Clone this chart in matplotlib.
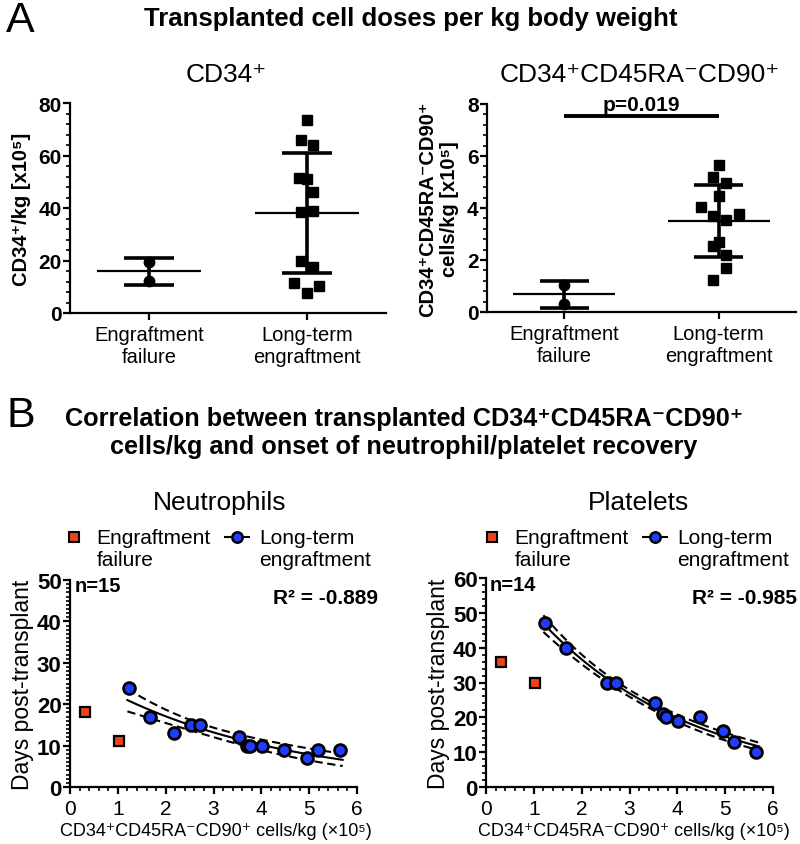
import numpy as np
import matplotlib
matplotlib.use("Agg")
import matplotlib.pyplot as plt
from matplotlib.lines import Line2D
from matplotlib.legend_handler import HandlerLine2D
from matplotlib.ticker import MultipleLocator

plt.rcParams['font.family'] = ['Liberation Sans', 'DejaVu Sans']

# ---------------- data ----------------
groups = ["Engraftment\nfailure", "Long-term\nengraftment"]

cd34_failure = [19.5, 12.3]
cd34_longterm = [73.6, 66.0, 64.0, 51.3, 51.0, 46.0, 38.5, 38.7, 19.7, 17.5, 11.3, 10.4, 7.5]
cd34_jitter = [0.0, -0.04, 0.04, -0.05, 0.0, 0.04, -0.035, 0.04, -0.035, 0.04, -0.08, 0.077, 0.0]

cd90_failure = [1.03, 0.32]
cd90_longterm = [1.23, 1.68, 2.18, 2.52, 2.71, 3.54, 3.70, 3.76, 4.02, 4.47, 4.96, 5.19, 5.65]
cd90_jitter = [-0.04, 0.05, 0.05, -0.04, 0.0, 0.05, -0.04, 0.13, -0.115, 0.0, 0.05, -0.04, 0.0]

neut_failure_days = [11, 18]
neut_longterm_days = [24, 17, 13, 15, 15, 12, 10, 10, 10, 9, 7, 9, 9]
plt_failure_days = [30, 36]
plt_longterm_days = [47, 40, np.nan, 30, 30, 24, 21, 20, 19, 20, 16, 13, 10]

legend_labels = ["Engraftment\nfailure", "Long-term\nengraftment"]
p_value_text = "p=0.019"
neut_n, plt_n = "n=15", "n=14"
neut_r, plt_r = "R\u00b2 = -0.889", "R\u00b2 = -0.985"

RED = "#f2401a"
BLUE = "#1f3cff"

W, H = 800, 845
fig = plt.figure(figsize=(W / 100, H / 100), dpi=100)


def px_axes(x0, x1, ytop, ybot):
    return fig.add_axes([x0 / W, 1 - ybot / H, (x1 - x0) / W, (ybot - ytop) / H])


def style_axes(ax):
    for s in ("top", "right"):
        ax.spines[s].set_visible(False)
    for s in ("left", "bottom"):
        ax.spines[s].set_linewidth(1.6)
    ax.tick_params(which="major", direction="out", length=5, width=1.6)
    ax.tick_params(which="minor", direction="out", length=3, width=1.2)


def dot_plot(ax, fail, lt, jit, ymax, major, minor, markersize):
    pos = [0, 1]
    data = [np.asarray(fail), np.asarray(lt)]
    ax.plot(np.zeros(len(fail)) + pos[0], fail, "o", color="k", ms=markersize + 0.5, zorder=3)
    ax.plot(pos[1] + np.asarray(jit), lt, "s", color="k", ms=markersize, zorder=3)
    for p, d in zip(pos, data):
        m, sd = d.mean(), d.std(ddof=1)
        ax.hlines(m, p - 0.33, p + 0.33, color="k", lw=1.6, zorder=4)
        ax.vlines(p, m - sd, m + sd, color="k", lw=2.6, zorder=4)
        ax.hlines([m - sd, m + sd], p - 0.16, p + 0.16, color="k", lw=2.6, zorder=4)
    ax.set_xlim(-0.5, 1.5)
    ax.set_ylim(0, ymax)
    ax.set_xticks(pos)
    ax.set_xticklabels(groups, fontsize=14.5, linespacing=1.2)
    ax.yaxis.set_major_locator(MultipleLocator(major))
    ax.yaxis.set_minor_locator(MultipleLocator(minor))
    for t in ax.get_yticklabels():
        t.set_fontweight("bold")
        t.set_fontsize(15)
    style_axes(ax)
    ax.tick_params(axis="y", pad=1)


def exp_fit(x, y, xs):
    """Nonlinear least-squares fit y = A*exp(k*x) with 95% confidence band."""
    x = np.asarray(x, float)
    y = np.asarray(y, float)
    b, a = np.polyfit(x, np.log(y), 1)
    A, k = np.exp(a), b
    for _ in range(60):
        e = np.exp(k * x)
        J = np.column_stack([e, A * x * e])
        delta = np.linalg.lstsq(J, y - A * e, rcond=None)[0]
        A += delta[0]
        k += delta[1]
    e = np.exp(k * x)
    J = np.column_stack([e, A * x * e])
    n = len(x)
    s2 = np.sum((y - A * e) ** 2) / (n - 2)
    cov = s2 * np.linalg.inv(J.T @ J)
    es = np.exp(k * xs)
    G = np.column_stack([es, A * xs * es])
    se = np.sqrt(np.einsum("ij,jk,ik->i", G, cov, G))
    fit = A * es
    t = 2.2
    return fit, fit - t * se, fit + t * se


class FirstLineHandler(HandlerLine2D):
    """Place the legend key level with the first line of a two-line label."""

    def create_artists(self, legend, orig_handle, xdescent, ydescent, width, height, fontsize, trans):
        arts = super().create_artists(legend, orig_handle, xdescent, ydescent, width, height,
                                      fontsize, trans)
        for a in arts:
            a.set_ydata(np.asarray(a.get_ydata()) + 0.56 * fontsize)
        return arts


def corr_plot(ax, fx, fy, lx, ly, ymax, major, minor, leg_left):
    lx = np.asarray(lx, float)
    ly = np.asarray(ly, float)
    ok = ~np.isnan(ly)
    xs = np.linspace(lx[ok].min() - 0.03, lx[ok].max() + 0.05, 200)
    fit, lo, hi = exp_fit(lx[ok], ly[ok], xs)
    ax.plot(xs, fit, "-", color="k", lw=1.5, zorder=2)
    ax.plot(xs, lo, "--", color="k", lw=1.5, dashes=(4, 2.2), zorder=2)
    ax.plot(xs, hi, "--", color="k", lw=1.5, dashes=(4, 2.2), zorder=2)
    ax.plot(fx, fy, "s", mfc=RED, mec="k", mew=1.6, ms=7.5, ls="none", zorder=3)
    ax.plot(lx[ok], ly[ok], "o", mfc=BLUE, mec="k", mew=2.0, ms=8.5, ls="none", zorder=3)
    ax.set_xlim(0, 6)
    ax.set_ylim(0, ymax)
    ax.xaxis.set_major_locator(MultipleLocator(1))
    ax.xaxis.set_minor_locator(MultipleLocator(0.2))
    ax.yaxis.set_major_locator(MultipleLocator(major))
    ax.yaxis.set_minor_locator(MultipleLocator(minor))
    for t in ax.get_yticklabels():
        t.set_fontweight("bold")
        t.set_fontsize(16)
    for t in ax.get_xticklabels():
        t.set_fontsize(15)
    style_axes(ax)
    ax.tick_params(axis="y", pad=1)
    ax.set_ylabel("Days post-transplant", fontsize=16.5, labelpad=2)
    h_fail = Line2D([], [], marker="s", ls="none", mfc=RED, mec="k", mew=1.5, ms=6.5)
    h_lt = Line2D([], [], marker="o", ls="-", color="k", lw=1.5, mfc=BLUE, mec="k", mew=1.8, ms=7.5)
    ax.legend([h_fail, h_lt], legend_labels, ncol=2,
              loc="upper left", bbox_to_anchor=(leg_left / W, 1 - 529 / H),
              bbox_transform=fig.transFigure, frameon=False,
              fontsize=15, handlelength=1.15, handletextpad=0.5, columnspacing=0.7,
              borderaxespad=0, borderpad=0,
              handler_map={Line2D: FirstLineHandler()})


# ---------------- Panel A ----------------
ax1 = px_axes(70, 386, 104, 314)
dot_plot(ax1, cd34_failure, cd34_longterm, cd34_jitter, 80, 20, 4, 7)
ax1.set_ylabel("CD34\u207a/kg [x10\u2075]", fontsize=14.5, fontweight="bold", labelpad=5)

ax2 = px_axes(487, 796, 105, 313)
dot_plot(ax2, cd90_failure, cd90_longterm, cd90_jitter, 8, 2, 0.4, 7)
ax2.set_ylabel("CD34\u207aCD45RA\u207bCD90\u207a\ncells/kg [x10\u2075]", fontsize=14.5,
               fontweight="bold", labelpad=6, linespacing=1.15)
ax2.plot([0, 1], [7.52, 7.52], color="k", lw=2.8, solid_capstyle="butt", clip_on=False)
ax2.text(0.5, 7.62, p_value_text, ha="center", va="bottom", fontsize=15, fontweight="bold")

fig.text(6 / W, 1 - 21 / H, "A", fontsize=31, va="center", ha="left")
fig.text(411 / W, 1 - 19 / H, "Transplanted cell doses per kg body weight",
         fontsize=18.5, fontweight="bold", ha="center", va="center")
fig.text(226 / W, 1 - 75 / H, "CD34\u207a", fontsize=19, ha="center", va="center")
fig.text(640 / W, 1 - 75 / H, "CD34\u207aCD45RA\u207bCD90\u207a", fontsize=19, ha="center", va="center")

# ---------------- Panel B ----------------
fig.text(6 / W, 1 - 416 / H, "B", fontsize=31, va="center", ha="left")
fig.text(404 / W, 1 - 433 / H,
         "Correlation between transplanted CD34\u207aCD45RA\u207bCD90\u207a\n"
         "cells/kg and onset of neutrophil/platelet recovery",
         fontsize=18.2, fontweight="bold", ha="center", va="center", linespacing=1.25)

ax3 = px_axes(70, 357, 581, 788)
corr_plot(ax3, cd90_failure, neut_failure_days, cd90_longterm, neut_longterm_days, 50, 10, 1, 62)
ax4 = px_axes(486, 773, 579, 788)
corr_plot(ax4, cd90_failure, plt_failure_days, cd90_longterm, plt_longterm_days, 60, 10, 2, 480)

fig.text(220 / W, 1 - 503 / H, "Neutrophils", fontsize=19, ha="center", va="center")
fig.text(639 / W, 1 - 503 / H, "Platelets", fontsize=19, ha="center", va="center")

xl = "CD34\u207aCD45RA\u207bCD90\u207a cells/kg (\u00d710\u2075)"
fig.text(216 / W, 1 - 832 / H, xl, fontsize=13, ha="center", va="center")
fig.text(634 / W, 1 - 832 / H, xl, fontsize=13, ha="center", va="center")

fig.text(75 / W, 1 - 587 / H, neut_n, fontsize=14.5, fontweight="bold", ha="left", va="center")
fig.text(378 / W, 1 - 599 / H, neut_r, fontsize=15, fontweight="bold", ha="right", va="center")
fig.text(490 / W, 1 - 586 / H, plt_n, fontsize=14.5, fontweight="bold", ha="left", va="center")
fig.text(797 / W, 1 - 599 / H, plt_r, fontsize=15, fontweight="bold", ha="right", va="center")

fig.savefig("out.png", dpi=100, facecolor="white")
